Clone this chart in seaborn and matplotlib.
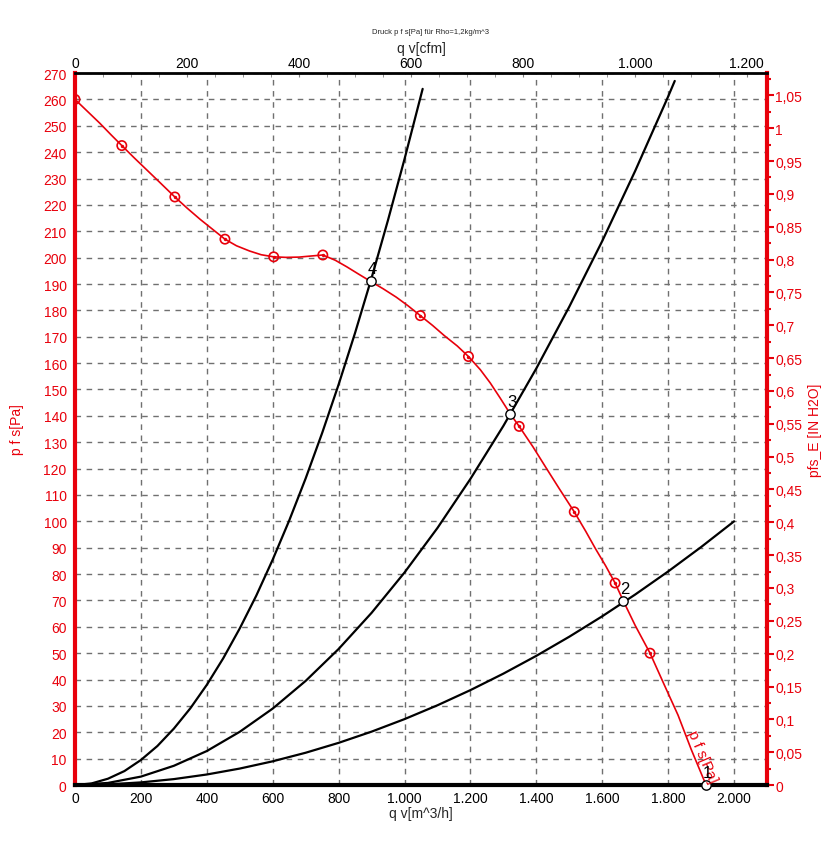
import numpy as np
import pandas as pd
import seaborn as sns
import matplotlib.pyplot as plt
from matplotlib.ticker import MultipleLocator, FuncFormatter

# fan curve p_fs [Pa] vs q_v [m^3/h]
fan_q = [0, 40, 75, 110, 142, 180, 220, 260, 303, 340, 380, 420, 455, 490, 530, 565, 603, 640,
         680, 715, 752, 790, 825, 860, 897, 935, 975, 1010, 1048, 1085, 1120, 1160, 1194, 1230,
         1260, 1290, 1321, 1348, 1390, 1430, 1470, 1515, 1550, 1580, 1610, 1639, 1664, 1700,
         1745, 1790, 1830, 1870, 1915]
fan_p = [260, 255.2, 251, 246.5, 242.5, 237.8, 233, 228.2, 223, 218.8, 214.5, 210.5, 207, 204.5,
         202.5, 201.1, 200.3, 200.1, 200.2, 200.6, 201, 199, 196.5, 193.8, 191, 188.2, 185, 181.8,
         178, 174.3, 170.5, 166.5, 162.5, 157.5, 152.5, 146.8, 140.7, 136, 128.2, 120.2, 112.3,
         103.6, 96.2, 89.5, 83.2, 76.6, 69.8, 60.5, 50, 37.5, 26.5, 13.5, 0]

# measured points (red circle markers)
meas_q = [0, 142, 303, 455, 603, 752, 1048, 1194, 1348, 1515, 1639, 1745]
meas_p = [260, 242.5, 223, 207, 200.3, 201, 178, 162.5, 136, 103.6, 76.6, 50]

# system curves
sys4_q = [0, 50, 100, 150, 200, 250, 300, 350, 400, 450, 500, 550, 600, 650, 700, 750, 800,
          850, 900, 950, 1000, 1030, 1055]
sys4_p = [0, 0.6, 2.4, 5.3, 9.5, 14.8, 21.4, 29.1, 38, 48.1, 59.4, 71.8, 85.5, 100.3, 116.3,
          133.5, 151.9, 171.5, 192.3, 214.3, 237.4, 251.9, 264]
sys3_q = [0, 100, 200, 300, 400, 500, 600, 700, 800, 900, 1000, 1100, 1200, 1300, 1400, 1500,
          1600, 1700, 1800, 1820]
sys3_p = [0, 0.8, 3.2, 7.3, 12.9, 20.2, 29, 39.5, 51.6, 65.3, 80.6, 97.5, 116.1, 136.2, 158,
          181.4, 206.3, 232.9, 261.1, 267]
sys2_q = [0, 100, 200, 300, 400, 500, 600, 700, 800, 900, 1000, 1100, 1200, 1300, 1400, 1500,
          1600, 1700, 1800, 1900, 2000]
sys2_p = [0, 0.25, 1, 2.25, 4, 6.25, 9, 12.25, 16, 20.25, 25, 30.25, 36, 42.25, 49, 56.25, 64,
          72.25, 81, 90.25, 100]

# operating points
op_labels = ['1', '2', '3', '4']
op_q = [1915, 1664, 1321, 897]
op_p = [0, 69.8, 140.7, 191]

# tick positions
cfm_ticks = [0, 200, 400, 600, 800, 1000, 1200]
inh2o_ticks = [0, 0.05, 0.1, 0.15, 0.2, 0.25, 0.3, 0.35, 0.4, 0.45, 0.5, 0.55, 0.6, 0.65,
               0.7, 0.75, 0.8, 0.85, 0.9, 0.95, 1.0, 1.05]

sns.set_style('white')
plt.rcParams['font.family'] = ['Liberation Sans', 'DejaVu Sans']

fig = plt.figure(figsize=(8.39, 8.53), dpi=100)
ax = fig.add_axes([0.0894, 0.0785, 0.8248, 0.8347])

red = '#e8000b'
ax.grid(True, which='major', color='#707070', linestyle=(0, (4, 4)), linewidth=1)

for q, p in [(sys4_q, sys4_p), (sys3_q, sys3_p), (sys2_q, sys2_p)]:
    sns.lineplot(x=q, y=p, ax=ax, color='black', linewidth=1.6, sort=False)

sns.lineplot(x=fan_q, y=fan_p, ax=ax, color=red, linewidth=1.2, sort=False)
sns.scatterplot(x=meas_q, y=meas_p, ax=ax, s=45, facecolor='none', edgecolor=red,
                linewidth=1.2, zorder=5)
sns.scatterplot(x=meas_q, y=meas_p, ax=ax, s=6, color=red, linewidth=0, zorder=6)
sns.scatterplot(x=op_q, y=op_p, ax=ax, s=45, color='white', edgecolor='black',
                linewidth=1, zorder=7, clip_on=False)

ax.text(1885, 10, 'p f s[Pa]', color=red, fontsize=11, rotation=-67,
        rotation_mode='anchor', ha='center', va='bottom', zorder=8)

for lab, q, p in zip(op_labels, op_q, op_p):
    ax.text(q + 5, p + 2, lab, fontsize=12, color='black', ha='center', va='bottom', zorder=9)

ax.set_xlim(0, 2100)
ax.set_ylim(0, 270)
ax.xaxis.set_major_locator(MultipleLocator(200))
ax.xaxis.set_minor_locator(MultipleLocator(40))
ax.yaxis.set_major_locator(MultipleLocator(10))
ax.yaxis.set_minor_locator(MultipleLocator(2))
ax.xaxis.set_major_formatter(FuncFormatter(lambda v, _: f"{int(round(v)):,}".replace(',', '.')))
ax.tick_params(axis='x', which='both', direction='in', colors='#808080', labelcolor='black',
               labelsize=10, length=3, pad=4)
ax.tick_params(axis='y', which='major', direction='out', colors=red, labelcolor=red,
               labelsize=10, length=5, width=1.5, pad=1)
ax.tick_params(axis='y', which='minor', direction='out', colors=red, length=3, width=1.5)
ax.set_xlabel('q v[m^3/h]', fontsize=10, labelpad=1)
ax.set_ylabel('p f s[Pa]', fontsize=10, color=red, labelpad=14)

ax.spines['left'].set_color(red)
ax.spines['left'].set_linewidth(3)
ax.spines['right'].set_color(red)
ax.spines['right'].set_linewidth(3)
ax.spines['bottom'].set_color('black')
ax.spines['bottom'].set_linewidth(3)
ax.spines['top'].set_color('black')
ax.spines['top'].set_linewidth(2)

# top axis in cfm
cfm = 1.699
top = ax.secondary_xaxis('top', functions=(lambda x: x / cfm, lambda x: x * cfm))
top.set_xticks(cfm_ticks)
top.xaxis.set_minor_locator(MultipleLocator(50))
top.xaxis.set_major_formatter(FuncFormatter(lambda v, _: f"{int(round(v)):,}".replace(',', '.')))
top.tick_params(axis='x', which='both', direction='in', colors='#808080', labelcolor='black',
                labelsize=10, length=3, pad=2)
top.set_xlabel('q v[cfm]', fontsize=10, labelpad=3)
top.spines['top'].set_visible(False)

# right axis in inch H2O
inh2o = 249.09
right = ax.secondary_yaxis('right', functions=(lambda y: y / inh2o, lambda y: y * inh2o))
right.set_yticks(inh2o_ticks)
right.yaxis.set_minor_locator(MultipleLocator(0.025))
right.yaxis.set_major_formatter(FuncFormatter(lambda v, _: f"{v:.2f}".rstrip('0').rstrip('.').replace('.', ',')))
right.tick_params(axis='y', which='major', direction='out', colors=red, labelcolor=red,
                  labelsize=10, length=5, width=1.5, pad=1)
right.tick_params(axis='y', which='minor', direction='out', colors=red, length=3, width=1.5)
right.set_ylabel('pfs_E [IN H2O]', fontsize=10, color=red, labelpad=4)
right.spines['right'].set_visible(False)

fig.text(0.513, 0.962, 'Druck p f s[Pa] für Rho=1,2kg/m^3', fontsize=5.5, ha='center', va='center')

fig.savefig('out.png', dpi=100)
